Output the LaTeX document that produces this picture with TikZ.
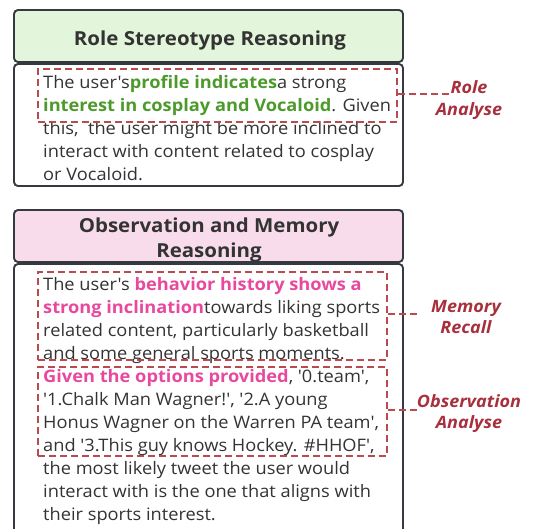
\documentclass[tikz,border=0pt]{standalone}
\usepackage{fontspec}
\setmainfont{Open Sans}[Ligatures=TeXOff, FakeStretch=1.06]
\definecolor{txt}{HTML}{333333}
\definecolor{grn}{HTML}{4C9A2A}
\definecolor{pnk}{HTML}{E8489E}
\definecolor{dred}{HTML}{B84A50}
\definecolor{lred}{HTML}{A8303C}
\definecolor{hgreen}{HTML}{E3F5DA}
\definecolor{hpink}{HTML}{F9DCEB}
\definecolor{bord}{HTML}{343A40}
\tikzset{
  panel/.style={draw=bord, line width=1.9pt, rounded corners=4pt},
  title/.style={font=\fontsize{19.3}{24}\selectfont\bfseries, text=txt, inner sep=0pt, anchor=base},
  line/.style={font=\fontsize{17.2}{23}\selectfont, text=txt, inner sep=0pt, anchor=base west},
  hlbox/.style={draw=dred, line width=1.7pt, dash pattern=on 7pt off 4pt},
  link/.style={draw=dred, line width=1.7pt, dash pattern=on 7pt off 4pt},
  lab/.style={font=\fontsize{17}{20}\selectfont\bfseries\itshape, text=lred, inner sep=0pt, anchor=base},
}
\newcommand{\gb}[1]{\textcolor{grn}{\bfseries #1}}
\newcommand{\pb}[1]{\textcolor{pnk}{\bfseries #1}}
\begin{document}
\begin{tikzpicture}[x=1pt,y=-1pt]
\useasboundingbox (0,0) rectangle (537,528);
% top panel
\draw[panel, fill=hgreen] (14,10) rectangle (403,62);
\draw[panel] (14,64) rectangle (403,186);
\node[title] (t1) at (210,45) {Role Stereotype Reasoning};
\node[line] (a1) at (43,88) {The user's\gb{profile indicates}a strong};
\node[line] (a2) at (43,111) {\gb{interest in cosplay and Vocaloid}. Given};
\node[line] (a3) at (43,134) {this,\ \ the user might be more inclined to};
\node[line] (a4) at (43,157) {interact with content related to cosplay};
\node[line] (a5) at (43,180) {or Vocaloid.};
\node[hlbox, minimum width=359pt, minimum height=53pt, anchor=north west, inner sep=0pt] (h1) at (37,68) {};
\node[lab] (r1) at (469,93) {Role};
\node[lab] (r2) at (469,115) {Analyse};
\coordinate (c1) at (449,94);
\draw[link] (h1.east |- c1) -- (c1);
% bottom panel
\draw[panel, fill=hpink] (14,210) rectangle (403,262);
\draw[panel] (14,264) rectangle (403,560);
\node[title] (t2) at (209,232) {Observation and Memory};
\node[title] (t3) at (209,257) {Reasoning};
\node[line] (b1) at (43,290) {The user's \pb{behavior history shows a}};
\node[line] (b2) at (43,313) {\pb{strong inclination}towards liking sports};
\node[line] (b3) at (43,336) {related content, particularly basketball};
\node[line] (b4) at (43,359) {and some general sports moments.};
\node[line] (b5) at (43,382) {\pb{Given the options provided}, '0.team',};
\node[line] (b6) at (43,405) {'1.Chalk Man Wagner!', '2.A young};
\node[line] (b7) at (43,428) {Honus Wagner on the Warren PA team',};
\node[line] (b8) at (43,451) {and '3.This guy knows Hockey. \#HHOF',};
\node[line] (b9) at (43,474) {the most likely tweet the user would};
\node[line] (b10) at (43,497) {interact with is the one that aligns with};
\node[line] (b11) at (43,520) {their sports interest.};
\node[hlbox, minimum width=349pt, minimum height=88pt, anchor=north west, inner sep=0pt] (h2) at (37,271) {};
\node[hlbox, minimum width=349pt, minimum height=89pt, anchor=north west, inner sep=0pt] (h3) at (37,366) {};
\node[lab] (m1) at (466,312) {Memory};
\node[lab] (m2) at (466,333) {Recall};
\node[lab] (o1) at (469,407) {Observation};
\node[lab] (o2) at (469,428) {Analyse};
\coordinate (c2) at (418,314);
\coordinate (c3) at (418,410);
\draw[link] (h2.east |- c2) -- (c2);
\draw[link] (h3.east |- c3) -- (c3);
\end{tikzpicture}
\end{document}
